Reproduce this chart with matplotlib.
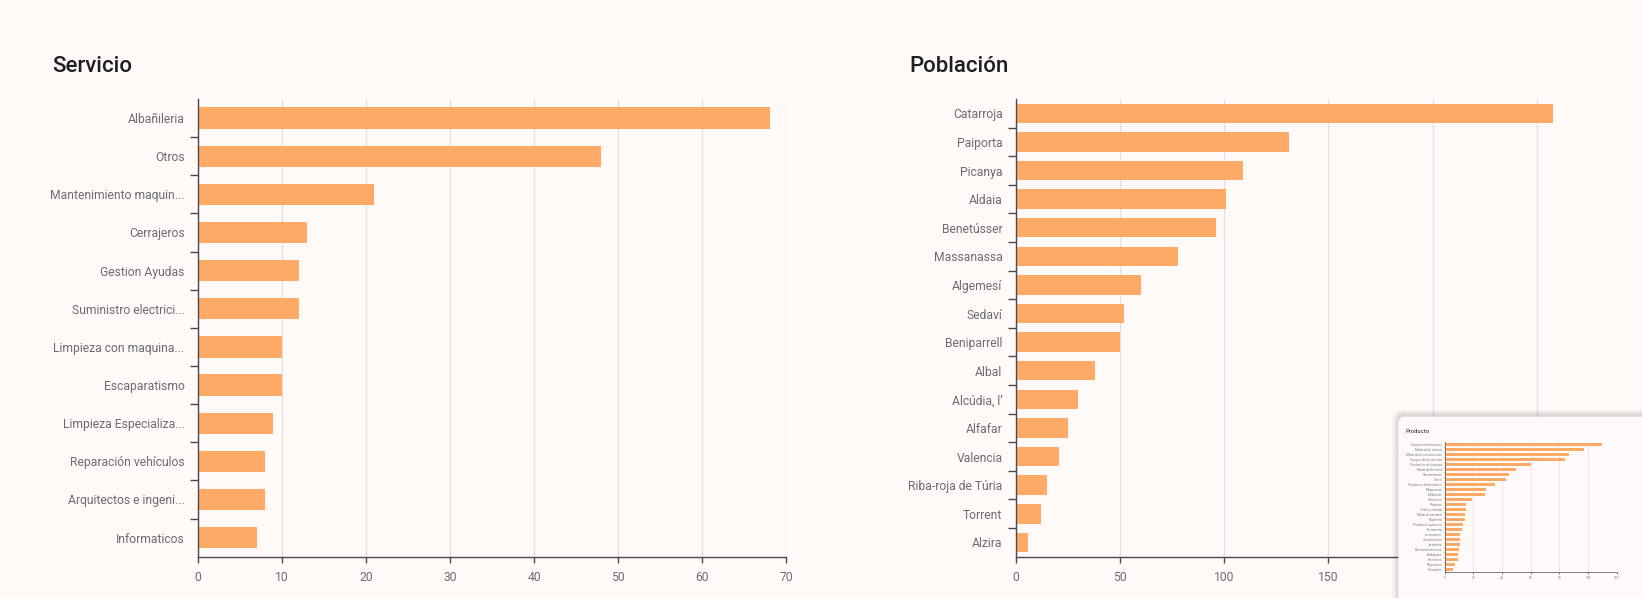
import matplotlib
matplotlib.use("Agg")
import matplotlib.pyplot as plt
from matplotlib.patches import FancyBboxPatch
import numpy as np

plt.rcParams['font.family'] = ['Roboto', 'DejaVu Sans']

# ---------------- data ----------------
servicios = ["Albañileria", "Otros", "Mantenimiento maquin...", "Cerrajeros",
             "Gestion Ayudas", "Suministro electrici...", "Limpieza con maquina...",
             "Escaparatismo", "Limpieza Especializa...", "Reparación vehículos",
             "Arquitectos e ingeni...", "Informaticos"]
servicio_vals = [68, 48, 21, 13, 12, 12, 10, 10, 9, 8, 8, 7]
servicio_ticks = [0, 10, 20, 30, 40, 50, 60, 70]
servicio_ticklabels = ["0", "10", "20", "30", "40", "50", "60", "70"]

poblaciones = ["Catarroja", "Paiporta", "Picanya", "Aldaia", "Benetússer",
               "Massanassa", "Algemesí", "Sedaví", "Beniparrell", "Albal",
               "Alcúdia, l’", "Alfafar", "Valencia", "Riba-roja de Túria",
               "Torrent", "Alzira"]
poblacion_vals = [258, 131, 109, 101, 96, 78, 60, 52, 50, 38, 30, 25, 21, 15, 12, 6]
poblacion_ticks = [0, 50, 100, 150, 200, 250, 300]
# labels for 200 / 250 / 300 are hidden under the overlay card in the reference
poblacion_ticklabels = ["0", "50", "100", "150", "", "", ""]

productos = ["Equipos informaticos", "Material de oficina", "Material de construcción",
             "Equipos de protección", "Productos de limpieza", "Material eléctrico",
             "Herramientas", "Otros", "Productos alimentarios", "Maquinaria",
             "Mobiliario", "Vehículos", "Pinturas", "Textil y calzado",
             "Material sanitario", "Papelería", "Productos químicos", "Fontanería",
             "Iluminación", "Climatización", "Jardinería", "Electrodomésticos",
             "Embalajes", "Ferretería", "Repuestos", "Cerrajería"]
producto_vals = [110, 97, 87, 84, 60, 50, 45, 43, 35, 29, 28, 19, 15, 15, 14, 14,
                 13, 12, 11, 11, 11, 10, 9, 9, 7, 6]
producto_ticks = [0, 20, 40, 60, 80, 100, 120]
producto_ticklabels = ["0", "20", "40", "60", "80", "100", "120"]

# ---------------- style ----------------
W, H = 1642, 598
BG = "#FFF9F8"
BAR = "#FFAA66"
GRID = "#E3DFDF"
AXIS = "#4A4A4A"
TXT = "#6C6C6C"
PX = 72 / 100.0  # points per pixel at dpi 100

fig = plt.figure(figsize=(W / 100, H / 100), dpi=100, facecolor=BG)


def box(x0, y0, x1, y1):
    return [x0 / W, 1 - y1 / H, (x1 - x0) / W, (y1 - y0) / H]


def bar_chart(ax, cats, vals, ticks, ticklabels, xmax, bar_h, fs=8.7, ticklen=7.7,
              xticklen=6, ypad=13, xpad=8, lw=1.0, labelcolor=TXT):
    n = len(cats)
    y = np.arange(n)
    ax.set_facecolor("none")
    ax.barh(y, vals, height=bar_h, color=BAR, zorder=2)
    ax.set_ylim(n - 0.5, -0.5)
    ax.set_xlim(0, xmax)
    ax.set_xticks(ticks)
    ax.set_xticklabels(ticklabels)
    ax.set_yticks(y)
    ax.set_yticklabels(cats)
    ax.set_yticks(np.arange(n - 1) + 0.5, minor=True)
    ax.tick_params(axis='y', which='major', length=0, pad=ypad * PX,
                   labelsize=fs, labelcolor=labelcolor)
    ax.tick_params(axis='y', which='minor', length=ticklen * PX, width=lw,
                   color=AXIS, direction='out')
    ax.tick_params(axis='x', which='major', length=xticklen * PX, width=lw,
                   color=AXIS, pad=xpad * PX, labelsize=fs, labelcolor=labelcolor)
    for s in ['top', 'right']:
        ax.spines[s].set_visible(False)
    for s in ['left', 'bottom']:
        ax.spines[s].set_color(AXIS)
        ax.spines[s].set_linewidth(lw)
    ax.grid(axis='x', color=GRID, linewidth=lw)
    ax.grid(axis='y', visible=False)
    ax.set_axisbelow(True)


# Left chart: Servicio
ax1 = fig.add_axes(box(197.7, 99, 786.4, 556.7))
bar_chart(ax1, servicios, servicio_vals, servicio_ticks, servicio_ticklabels, 70,
          bar_h=0.56)
fig.text(52 / W, 1 - 71.5 / H, "Servicio", fontsize=16, fontweight='medium',
         color="#1E1E1E", ha='left', va='baseline')

# Right chart: Población
ax2 = fig.add_axes(box(1015.5, 99, 1641, 556.7))
bar_chart(ax2, poblaciones, poblacion_vals, poblacion_ticks, poblacion_ticklabels, 300,
          bar_h=0.68)
fig.text(909 / W, 1 - 71.5 / H, "Población", fontsize=16, fontweight='medium',
         color="#1E1E1E", ha='left', va='baseline')

# ---------------- overlay card (Producto) ----------------
cx0, cy0 = 1398.3, 416.7  # top-left of card in pixels
card_w, card_h = 300, 250
for i, a in enumerate([0.025, 0.03, 0.04, 0.05]):
    grow = (4 - i) * 1.6
    sh = FancyBboxPatch(((cx0 - grow) / 100, (H - cy0 - card_h - grow + 1) / 100),
                        (card_w + 2 * grow) / 100, (card_h + 2 * grow) / 100,
                        boxstyle="round,pad=0,rounding_size=%f" % ((6 + grow) / 100),
                        transform=fig.dpi_scale_trans, facecolor="#000000",
                        edgecolor='none', alpha=a, zorder=3)
    fig.add_artist(sh)
card = FancyBboxPatch((cx0 / 100, (H - cy0 - card_h) / 100), card_w / 100, card_h / 100,
                      boxstyle="round,pad=0,rounding_size=0.06",
                      transform=fig.dpi_scale_trans, facecolor="#FFFAF9",
                      edgecolor='none', zorder=4)
fig.add_artist(card)

ax3 = fig.add_axes(box(1444.7, 442.3, 1616.7, 572.3), zorder=10)
bar_chart(ax3, productos, producto_vals, producto_ticks, producto_ticklabels, 120,
          bar_h=0.62, fs=2.3, ticklen=1.2, xticklen=1.5, ypad=2.5, xpad=2.5, lw=0.5,
          labelcolor="#7A7F8C")
fig.text(1405 / W, 1 - 433 / H, "Producto", fontsize=4.2, color="#222222",
         ha='left', va='baseline', zorder=11)

fig.savefig("out.png", dpi=100, facecolor=BG)
